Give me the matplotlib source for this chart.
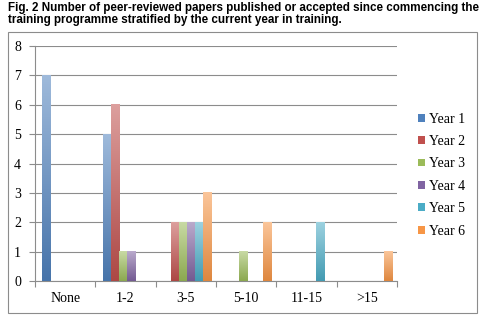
import numpy as np
import matplotlib
matplotlib.use('Agg')
import matplotlib.pyplot as plt
from matplotlib.colors import to_rgb
from matplotlib.patches import Rectangle

# Data
categories = ['None', '1-2', '3-5', '5-10', '11-15', '>15']
series = ['Year 1', 'Year 2', 'Year 3', 'Year 4', 'Year 5', 'Year 6']
year1 = [7, 5, 0, 0, 0, 0]
year2 = [0, 6, 2, 0, 0, 0]
year3 = [0, 1, 2, 1, 0, 0]
year4 = [0, 1, 2, 0, 0, 0]
year5 = [0, 0, 2, 0, 2, 0]
year6 = [0, 0, 3, 2, 0, 1]
values = [year1, year2, year3, year4, year5, year6]

colors = ['#4F81BD', '#C0504D', '#9BBB59', '#8064A2', '#4BACC6', '#F79646']

fig = plt.figure(figsize=(4.86, 3.23), dpi=100)

# outer chart frame
fig.patches.append(Rectangle((8 / 486, 1 - 313 / 323), 469 / 486, 281 / 323,
                             transform=fig.transFigure, fill=False,
                             edgecolor='#8c8c8c', linewidth=0.8))

fig.text(8 / 486, 1 - 2 / 323,
         'Fig. 2 Number of peer-reviewed papers published or accepted since commencing the\n'
         'training programme stratified by the current year in training.',
         ha='left', va='top', fontsize=8.35, fontweight='bold',
         family='Liberation Sans', linespacing=1.0)

ax = fig.add_axes([35 / 486, 1 - 281 / 323, 362 / 486, 235 / 323])

n = len(series)
group = 0.8
w = group / n
x = np.arange(len(categories))


def lighten(c, f):
    r = np.array(to_rgb(c))
    return r + (1 - r) * f


def darken(c, f):
    return np.array(to_rgb(c)) * (1 - f)


for i, (name, vals, col) in enumerate(zip(series, values, colors)):
    xs = x - group / 2 + w * i + 0.02
    top = lighten(col, 0.45)
    bot = darken(col, 0.1)
    for xi, v in zip(xs, vals):
        if v <= 0:
            continue
        t = np.linspace(0, 1, 64)[:, None]
        img = top[None, :] * (1 - t) + bot[None, :] * t
        img = img[:, None, :]
        ax.imshow(img, extent=(xi, xi + w, 0, v), aspect='auto',
                  interpolation='bilinear', zorder=3, origin='upper')

ax.set_xlim(-0.5, len(categories) - 0.5)
ax.set_ylim(0, 8)
ax.set_yticks(range(0, 9))
ax.yaxis.grid(True, color='#8c8c8c', linewidth=0.8)
ax.set_axisbelow(True)

ax.set_xticks(np.arange(len(categories) + 1) - 0.5)
ax.set_xticklabels([])
ax.set_xticks(x, minor=True)
ax.set_xticklabels(categories, minor=True)
ax.tick_params(axis='x', which='minor', length=0, pad=8)
ax.tick_params(axis='x', which='major', length=4, color='#8c8c8c', direction='out')
ax.tick_params(axis='y', length=4, color='#8c8c8c', pad=6)
for lab in ax.get_xticklabels(minor=True) + ax.get_yticklabels():
    lab.set_family('Liberation Serif')
    lab.set_fontsize(10)

for s in ['top', 'right']:
    ax.spines[s].set_visible(False)
for s in ['left', 'bottom']:
    ax.spines[s].set_color('#8c8c8c')
    ax.spines[s].set_linewidth(0.8)

handles = [Rectangle((0, 0), 1, 1, facecolor=c) for c in colors]
fig.legend(handles, series, loc='upper left', bbox_to_anchor=(412 / 486, 1 - 107 / 323),
           frameon=False, prop={'family': 'Liberation Serif', 'size': 10},
           handlelength=0.5, handleheight=0.5, handletextpad=0.3,
           labelspacing=0.68, borderaxespad=0)

fig.savefig('out.png', dpi=100)
